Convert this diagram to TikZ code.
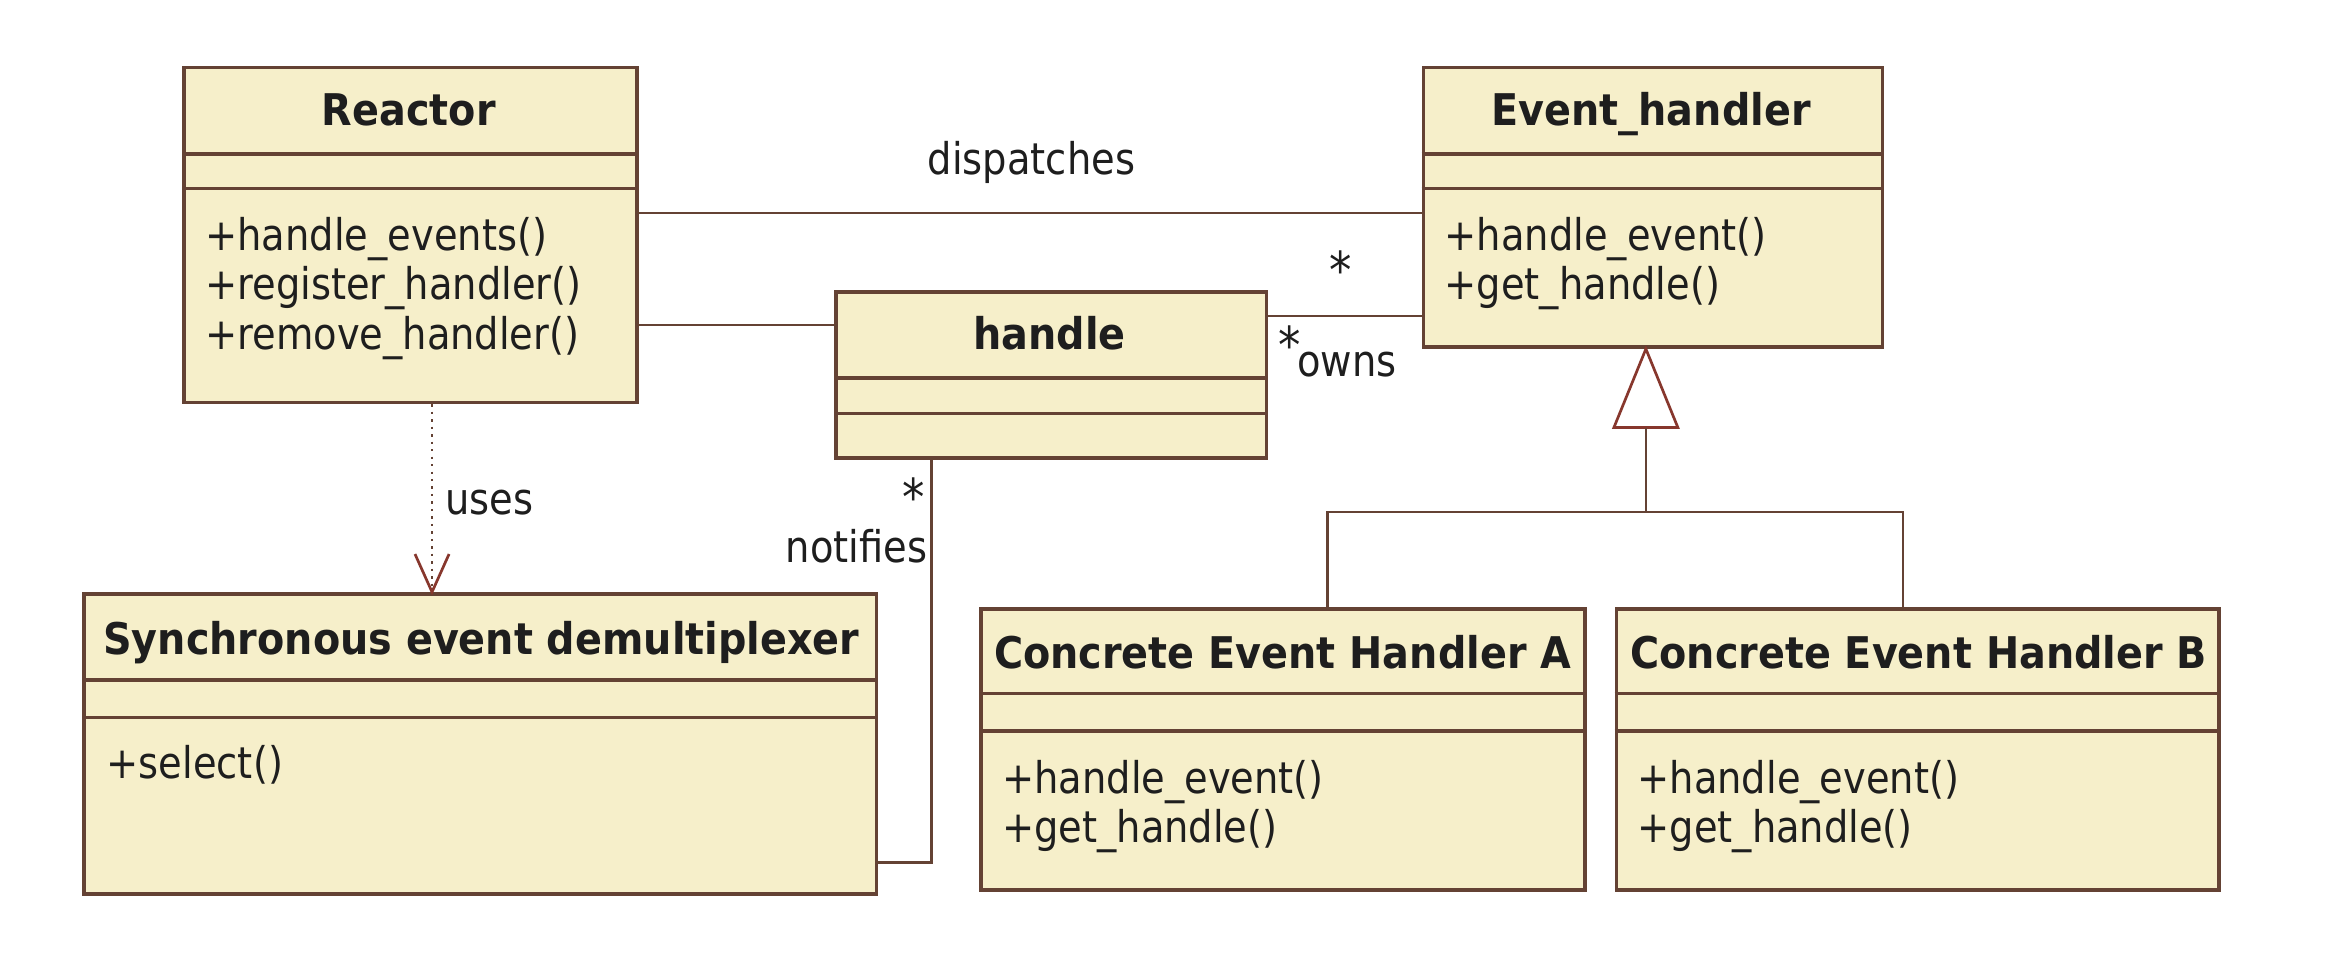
\documentclass[tikz,border=0pt]{standalone}
\usepackage{fontspec}
\usetikzlibrary{arrows.meta}
\newfontfamily\dvfont[FakeStretch=0.88, BoldFeatures={FakeStretch=0.91}]{DejaVu Sans}
\newcommand\methfont{\dvfont\fontsize{14.6pt}{16.75pt}\selectfont}
\newcommand\ttlfont{\dvfont\bfseries\fontsize{14.6pt}{16.75pt}\selectfont}
\newcommand\starfont{\dvfont\fontsize{17pt}{18pt}\selectfont}
\definecolor{bg}{RGB}{246,239,202}
\definecolor{brd}{RGB}{100,66,52}
\definecolor{arr}{RGB}{135,55,45}
\definecolor{txt}{RGB}{30,30,30}
\tikzset{
  cls/.style={draw=brd, fill=bg, line width=1.2pt, inner sep=0pt, anchor=north west},
  sepline/.style={draw=brd, line width=1.2pt},
  ttl/.style={font=\ttlfont, text=txt, inner sep=0pt, anchor=base},
  meth/.style={font=\methfont, text=txt, inner sep=0pt, anchor=base west},
  lbl/.style={font=\methfont, text=txt, inner sep=0pt, anchor=base},
  starl/.style={font=\starfont, text=txt, inner sep=0pt, anchor=base},
  conn/.style={draw=brd, line width=0.8pt},
}
\begin{document}
\begin{tikzpicture}[x=0.5pt,y=-0.5pt]
\useasboundingbox[fill=white] (0,0) rectangle (1568,645);

% Reactor
\node[cls, minimum width=151.5pt, minimum height=112pt] (reactor) at (122,44) {};
\draw[sepline] (reactor.west |- 0,103) -- (reactor.east |- 0,103);
\draw[sepline] (reactor.west |- 0,126) -- (reactor.east |- 0,126);
\node[ttl] (reactorT) at (273.5,84) {Reactor};
\node[meth] (r1) at (137,167.5) {+handle\_events()};
\node[meth] (r2) at (137,200.5) {+register\_handler()};
\node[meth] (r3) at (137,234) {+remove\_handler()};

% Event_handler
\node[cls, minimum width=153.5pt, minimum height=93.5pt] (evh) at (951,44) {};
\draw[sepline] (evh.west |- 0,103) -- (evh.east |- 0,103);
\draw[sepline] (evh.west |- 0,126) -- (evh.east |- 0,126);
\node[ttl] (evhT) at (1104.5,84) {Event\_handler};
\node[meth] (e1) at (966,167.5) {+handle\_event()};
\node[meth] (e2) at (966,200.5) {+get\_handle()};

% handle
\node[cls, minimum width=144pt, minimum height=55.5pt] (handle) at (558,194) {};
\draw[sepline] (handle.west |- 0,253) -- (handle.east |- 0,253);
\draw[sepline] (handle.west |- 0,276.5) -- (handle.east |- 0,276.5);
\node[ttl] (handleT) at (702,233.5) {handle};

% Synchronous event demultiplexer
\node[cls, minimum width=265pt, minimum height=100.5pt] (sync) at (55,396) {};
\draw[sepline] (sync.west |- 0,455) -- (sync.east |- 0,455);
\draw[sepline] (sync.west |- 0,480) -- (sync.east |- 0,480);
\node[ttl] (syncT) at (322,437.5) {Synchronous event demultiplexer};
\node[meth] (s1) at (71,521) {+select()};

% Concrete Event Handler A
\node[cls, minimum width=202pt, minimum height=94pt] (ceha) at (655,406) {};
\draw[sepline] (ceha.west |- 0,464) -- (ceha.east |- 0,464);
\draw[sepline] (ceha.west |- 0,489) -- (ceha.east |- 0,489);
\node[ttl] (cehaT) at (858,447.5) {Concrete Event Handler A};
\node[meth] (a1) at (670,530.5) {+handle\_event()};
\node[meth] (a2) at (670,563.5) {+get\_handle()};

% Concrete Event Handler B
\node[cls, minimum width=201.5pt, minimum height=94pt] (cehb) at (1080,406) {};
\draw[sepline] (cehb.west |- 0,464) -- (cehb.east |- 0,464);
\draw[sepline] (cehb.west |- 0,489) -- (cehb.east |- 0,489);
\node[ttl] (cehbT) at (1283.5,447.5) {Concrete Event Handler B};
\node[meth] (b1) at (1095,530.5) {+handle\_event()};
\node[meth] (b2) at (1095,563.5) {+get\_handle()};

% dispatches
\draw[conn] (reactor.east |- 0,142.6) -- (evh.west |- 0,142.6);
\node[lbl] (dispL) at (690,117) {dispatches};
\node[starl] (star1) at (897,193) {*};

% reactor -- handle
\draw[conn] (reactor.east |- 0,217.5) -- (handle.west |- 0,217.5);

% handle -- event_handler (owns)
\draw[conn] (handle.east |- 0,211.5) -- (evh.west |- 0,211.5);
\node[starl] (star2) at (863,243) {*};
\node[lbl] (ownsL) at (901,252) {owns};

% uses (dependency)
\draw[conn, dash pattern=on 0.8pt off 1.7pt] (reactor.south -| 289,0) -- (sync.north -| 289,0);
\draw[draw=arr, line width=0.9pt, line join=miter] ([shift={(-11.4,-25.4)}]sync.north -| 289,0) -- (sync.north -| 289,0) -- ([shift={(11.4,-25.4)}]sync.north -| 289,0);
\node[lbl] (usesL) at (327.5,344) {uses};

% notifies
\draw[conn] (handle.south -| 623,0) |- (sync.east |- 0,577);
\node[starl] (star3) at (611,345) {*};
\node[lbl] (notL) at (573,376) {notifies};

% generalization
\coordinate (apex) at (evh.south -| 1101,0);
\coordinate (tbase) at (1101,286);
\coordinate (junc) at (1101,342.4);
\draw[draw=arr, line width=0.9pt, fill=white, line join=miter] (apex) -- (1079.6,286) -- (1122.4,286) -- cycle;
\draw[conn] (tbase) -- (junc);
\draw[conn] (junc) -| (ceha.north -| 888,0);
\draw[conn] (junc) -| (cehb.north -| 1273,0);
\end{tikzpicture}
\end{document}
